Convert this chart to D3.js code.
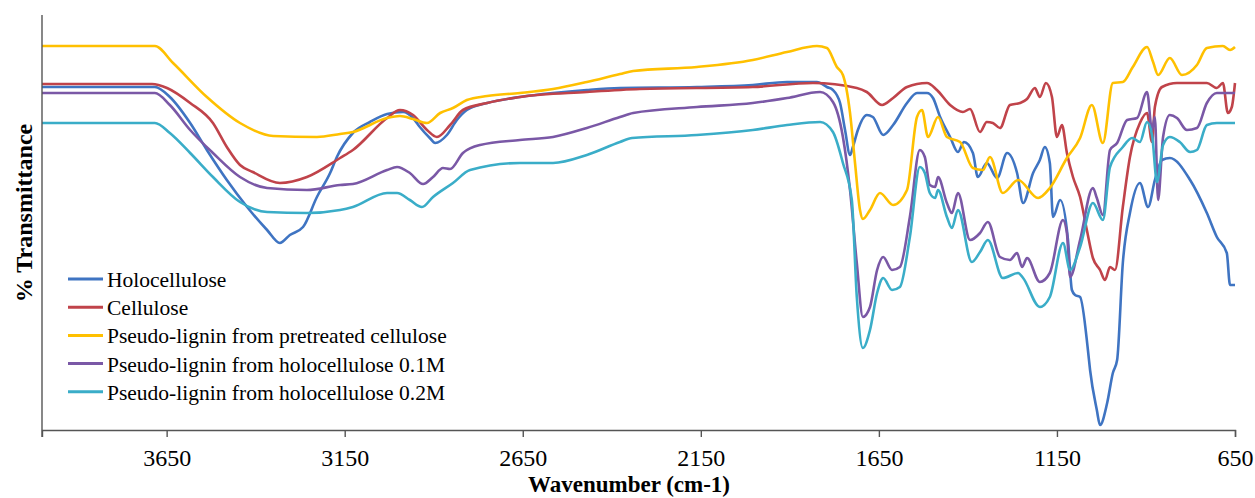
<!DOCTYPE html>
<html>
<head>
<meta charset="utf-8">
<script src="https://cdn.jsdelivr.net/npm/d3@7"></script>
<style>
  body { margin: 0; background: #fff; }
  svg text { font-family: "Liberation Serif", "Times New Roman", serif; fill: #000; }
</style>
</head>
<body>
<script>
// FTIR spectra, values: [wavenumber cm-1, transmittance (arbitrary %)]
var holocellulose = [
  [4000,68.6],[3683,68.6],[3641,66.6],[3584,61.4],[3537,56],[3481,50],[3424,44.6],[3368,40],
  [3332,37.4],[3304,39],[3267,40.6],[3228,46.6],[3191,51.4],[3172,54.6],[3127,59.4],[3079,61.6],
  [3031,63.2],[2986,63.6],[2958,62.4],[2939,60.6],[2911,58.4],[2896,57.4],[2863,59],[2835,62],
  [2807,64],[2750,65.4],[2658,66.6],[2565,67.4],[2470,68],[2377,68.4],[2161,68.6],[2004,69],
  [1908,69.6],[1824,69.6],[1796,68.6],[1779,68],[1759,65.4],[1745,60],[1731,55],[1723,56.6],
  [1709,60],[1684,63],[1667,62.6],[1638,59],[1610,61],[1571,65.4],[1543,67.4],[1515,67.4],
  [1498,66.4],[1478,62.6],[1450,58.6],[1428,55.6],[1411,57.6],[1386,55.4],[1372,50.6],[1347,53.4],
  [1318,50.4],[1290,55.4],[1262,51.4],[1245,45.4],[1217,51.4],[1198,54],[1184,56.6],[1170,53.4],
  [1161,42.6],[1141,46],[1119,38],[1108,28],[1099,27],[1085,26.6],[1063,16],[1057,12],
  [1038,4],[1029,1],[1009,5.4],[993,11.4],[981,14],[965,33.4],[945,43.4],[917,49.4],
  [894,44.6],[875,50],[855,54],[833,54.4],[776,50],[729,43.4],[701,38.6],[673,35.4],
  [664,29],[650,29]
];
var cellulose = [
  [4000,69.2],[3691,69.2],[3649,68.4],[3584,65.4],[3520,61.4],[3481,56.6],[3444,53],[3408,51.6],
  [3332,49.4],[3256,50.6],[3163,54.4],[3127,56],[3031,62.4],[2995,64],[2958,63],[2919,60],
  [2891,58.6],[2854,61],[2818,64],[2750,65.4],[2658,66.6],[2470,67.6],[2321,68.2],[2004,68.6],
  [1835,69.4],[1712,68.4],[1684,67.6],[1641,65],[1610,66.4],[1571,68.6],[1515,69.4],[1487,68],
  [1450,65],[1414,63.6],[1394,64.2],[1366,59.6],[1347,61.6],[1330,61.4],[1310,60.4],[1282,65],
  [1254,65.4],[1234,66.2],[1212,68.4],[1198,66.6],[1181,69.4],[1164,66.6],[1150,58.6],[1136,61],
  [1122,55.4],[1105,50.6],[1085,46.6],[1066,40],[1049,34.4],[1029,32],[1015,30],[1001,32.6],
  [987,32],[965,44.6],[945,54.6],[917,61.4],[897,63.4],[883,57.6],[875,64.6],[855,68.6],
  [813,69.4],[729,69.4],[701,68.4],[684,69.4],[670,63.4],[659,64.6],[650,69.4]
];
var pretreatedCellulose = [
  [4000,76.8],[3683,76.8],[3632,73.4],[3537,66.6],[3444,61.4],[3351,58.8],[3228,58.6],[3163,59.2],
  [3127,59.6],[3031,62.4],[2995,62.8],[2958,62.2],[2919,61.4],[2882,63.4],[2846,64.4],[2807,66],
  [2750,66.8],[2658,67.4],[2565,68.2],[2470,69.6],[2377,71.2],[2340,71.8],[2161,72.6],[2004,74],
  [1908,75.6],[1824,76.8],[1796,76.4],[1768,72.6],[1751,71],[1731,63.4],[1717,53.4],[1703,44],
  [1695,42.2],[1675,44],[1647,47.4],[1610,45],[1571,48],[1543,62.6],[1529,64],[1512,58.6],
  [1484,62.6],[1459,58.6],[1422,57.6],[1386,52.4],[1358,52],[1338,54.6],[1302,47.4],[1259,50],
  [1203,46.4],[1170,48.4],[1122,54.4],[1085,58.4],[1052,65],[1021,57.4],[993,69.4],[965,69.6],
  [937,72.6],[897,76.6],[880,73.6],[866,71],[833,74.4],[799,71],[757,73],[729,76.4],
  [684,76.8],[664,76],[650,76.6]
];
var holo01M = [
  [4000,67.4],[3683,67.4],[3641,65],[3584,60],[3520,55.4],[3444,50.6],[3368,48.4],[3256,48],
  [3163,49],[3127,49.2],[3031,52],[3003,52.6],[2967,51.4],[2930,49.2],[2902,50.6],[2874,52.4],
  [2854,52.2],[2818,55.4],[2770,57],[2658,58],[2565,58.6],[2470,60.4],[2377,62.6],[2340,63.4],
  [2161,64.6],[2004,65.4],[1908,66.4],[1815,67.6],[1779,65.6],[1751,58.6],[1731,48],[1712,33.4],
  [1695,22.6],[1675,24.6],[1655,32],[1638,34.6],[1613,32],[1591,32.6],[1563,42.6],[1535,56],
  [1521,54.6],[1507,49],[1492,48.6],[1484,50.6],[1459,45.4],[1445,43.4],[1428,47.4],[1394,38],
  [1366,39.4],[1344,41.6],[1310,34.6],[1282,34],[1262,35.4],[1248,32.6],[1234,34.4],[1198,29.6],
  [1170,31.4],[1133,42],[1122,39.4],[1113,30.6],[1085,38],[1049,48.4],[1038,46.4],[1021,43],
  [1001,56],[981,57.4],[953,62],[925,62.4],[897,67.6],[883,60],[875,62.6],[866,46],
  [852,58.6],[833,63],[813,62.4],[785,60],[757,60.4],[729,65.4],[701,67.4],[650,67.4]
];
var holo02M = [
  [4000,61.4],[3683,61.4],[3641,59.4],[3584,55.4],[3520,50.6],[3444,45.6],[3368,43.6],[3256,43.4],
  [3163,44],[3127,44.6],[3031,47.4],[3003,47.4],[2967,46],[2933,44.6],[2902,46.6],[2846,49.4],
  [2798,52],[2658,53.4],[2565,53.4],[2470,55],[2377,57.6],[2343,58.4],[2161,59],[2004,60],
  [1908,61],[1815,61.6],[1779,59.6],[1751,53.4],[1726,46],[1712,26.6],[1695,16.4],[1675,20],
  [1655,27.4],[1638,30.4],[1613,28],[1591,28.6],[1563,38.6],[1535,52.6],[1521,51.4],[1507,47.4],
  [1492,46.4],[1484,48],[1459,42.6],[1445,40.4],[1428,44],[1389,33.6],[1366,35.6],[1344,38],
  [1302,30.4],[1259,31.4],[1245,30.4],[1198,24.6],[1170,26.6],[1133,37.4],[1113,32],[1085,36.6],
  [1049,45.4],[1021,42],[1001,52.6],[965,56.6],[939,58.4],[917,57.6],[897,61.6],[883,59],
  [869,49.6],[852,57],[833,58.6],[805,57.6],[776,55.6],[757,56],[729,61],[701,61.4],[650,61.4]
];

var seriesNames = [
  "Holocellulose",
  "Cellulose",
  "Pseudo-lignin from pretreated cellulose",
  "Pseudo-lignin from holocellulose 0.1M",
  "Pseudo-lignin from holocellulose 0.2M"
];
var seriesData = [holocellulose, cellulose, pretreatedCellulose, holo01M, holo02M];
var seriesColors = ["#3F74C2", "#C0434A", "#FFC000", "#7A58A6", "#3AADC8"];
var xTicks = [3650, 3150, 2650, 2150, 1650, 1150, 650];

var w = 1255, h = 498;

var svg = d3.select("body").append("svg")
  .attr("width", w)
  .attr("height", h);

// reversed wavenumber axis, like the original
var x = d3.scaleLinear().domain([4000, 650]).range([42, 1235]);
var y = d3.scaleLinear().domain([0, 83]).range([430, 15]);

// monotone curve: smooth but no overshoot on the flat parts
var line = d3.line()
  .x(function(d){ return x(d[0]); })
  .y(function(d){ return y(d[1]); })
  .curve(d3.curveMonotoneX);

// spectra
svg.selectAll(".spectrum")
  .data(seriesData)
  .enter()
  .append("path")
  .attr("class", "spectrum")
  .attr("d", line)
  .attr("fill", "none")
  .attr("stroke", function(d, i){ return seriesColors[i]; })
  .attr("stroke-width", 2.6)
  .attr("stroke-linejoin", "round");

// x axis
var xAxis = d3.axisBottom(x)
  .tickValues(xTicks)
  .tickSize(7)
  .tickPadding(12)
  .tickFormat(d3.format("d"));

var gx = svg.append("g")
  .attr("transform", "translate(0," + y(0) + ")")
  .call(xAxis);
gx.select(".domain").attr("stroke", "#555").attr("stroke-width", 1.4);
gx.selectAll(".tick line").attr("stroke", "#555").attr("stroke-width", 1.4);
gx.selectAll(".tick text")
  .attr("font-family", "Liberation Serif, Times New Roman, serif")
  .attr("font-size", 24)
  .attr("fill", "#000");

// y axis line only (no ticks)
svg.append("line")
  .attr("x1", x(4000)).attr("x2", x(4000))
  .attr("y1", y(83)).attr("y2", y(0) + 7)
  .attr("stroke", "#555")
  .attr("stroke-width", 1.4);

// axis titles
svg.append("text")
  .attr("x", 629)
  .attr("y", 492)
  .attr("text-anchor", "middle")
  .attr("font-size", 23)
  .attr("font-weight", "bold")
  .text("Wavenumber (cm-1)");

svg.append("text")
  .attr("transform", "translate(32,213) rotate(-90)")
  .attr("text-anchor", "middle")
  .attr("font-size", 24)
  .attr("font-weight", "bold")
  .text("% Transmittance");

// legend
var legend = svg.selectAll(".legend")
  .data(seriesNames)
  .enter()
  .append("g")
  .attr("class", "legend")
  .attr("transform", function(d, i){ return "translate(68," + (279 + i * 28.2) + ")"; });

legend.append("line")
  .attr("x1", 0).attr("x2", 35)
  .attr("y1", 0).attr("y2", 0)
  .attr("stroke", function(d, i){ return seriesColors[i]; })
  .attr("stroke-width", 3);

legend.append("text")
  .attr("x", 39)
  .attr("y", 8)
  .attr("font-size", 21.5)
  .text(function(d){ return d; });
</script>
</body>
</html>
